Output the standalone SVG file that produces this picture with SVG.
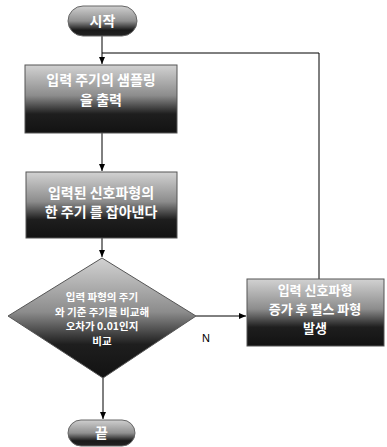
<svg xmlns="http://www.w3.org/2000/svg" width="387" height="447" viewBox="0 0 387 447">
<defs>
<linearGradient id="g" x1="0" y1="0" x2="0" y2="1">
<stop offset="0" stop-color="#d2d2d2"/>
<stop offset="0.45" stop-color="#8c8c8c"/>
<stop offset="0.72" stop-color="#1e1e1e"/>
<stop offset="1" stop-color="#121212"/>
</linearGradient>
<linearGradient id="gp" x1="0" y1="0" x2="0" y2="1">
<stop offset="0" stop-color="#cfcfcf"/>
<stop offset="0.5" stop-color="#909090"/>
<stop offset="0.8" stop-color="#1a1a1a"/>
<stop offset="1" stop-color="#222"/>
</linearGradient>
<marker id="a" markerWidth="8" markerHeight="8" refX="7" refY="4" orient="auto" markerUnits="userSpaceOnUse">
<path d="M0,1 L7,4 L0,7 z" fill="#000"/>
</marker>
<style>
.n{fill:url(#g);stroke:#555;stroke-width:1}
.p{fill:url(#gp);stroke:#666;stroke-width:1}
.t{font-family:"Noto Sans CJK KR","Noto Sans",sans-serif;fill:#fff;font-size:14px;text-anchor:middle;font-weight:bold}
.ts{font-size:10.5px}
.tm{font-size:13px}
.c{fill:none;stroke:#000;stroke-width:1}
.l{font-family:"Liberation Sans",Arial,sans-serif;font-size:11px;fill:#000}
</style>
</defs>
<g id="connectors">
<path class="c" d="M102,36 V64" marker-end="url(#a)"/>
<path class="c" d="M319,279 V53 H102"/>
<path class="c" d="M102,133 V171" marker-end="url(#a)"/>
<path class="c" d="M102,238 V257" marker-end="url(#a)"/>
<path class="c" d="M196,316 H246" marker-end="url(#a)"/>
<path class="c" d="M103,378 V419" marker-end="url(#a)"/>
<text class="l" x="202" y="342">N</text>
</g>
<g id="start">
<rect class="p" x="68" y="6" width="69" height="30" rx="15"/>
<text class="t" x="102.500" y="26">시작</text>
</g>
<g id="box1">
<rect class="n" x="25" y="65" width="152" height="68"/>
<text class="t" x="101" y="85">입력 주기의 샘플링</text>
<text class="t" x="101" y="105">을 출력</text>
</g>
<g id="box2">
<rect class="n" x="26" y="172" width="151" height="66"/>
<text class="t" x="101" y="198">입력된 신호파형의</text>
<text class="t" x="101" y="217">한 주기 를 잡아낸다</text>
</g>
<g id="decision">
<polygon class="n" points="102,258 196,316 103,378 8,316"/>
<text class="t ts" x="102" y="301">입력 파형의 주기</text>
<text class="t ts" x="102" y="315.500">와 기준 주기를 비교해</text>
<text class="t ts" x="102" y="330">오차가 0.01인지</text>
<text class="t ts" x="102" y="344.500">비교</text>
</g>
<g id="box3">
<rect class="n" x="247" y="279" width="137" height="67"/>
<text class="t tm" x="315" y="295">입력 신호파형</text>
<text class="t tm" x="315" y="314">증가 후 펄스 파형</text>
<text class="t tm" x="315" y="333">발생</text>
</g>
<g id="end">
<rect class="p" x="68" y="420" width="67" height="26" rx="13"/>
<text class="t" x="101.500" y="438">끝</text>
</g>
</svg>
